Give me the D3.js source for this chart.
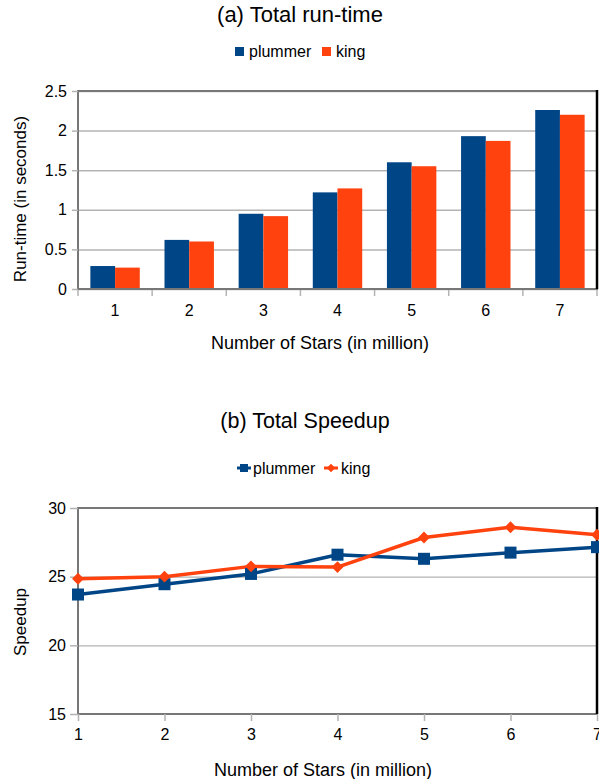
<!DOCTYPE html>
<html><head><meta charset="utf-8">
<script src="https://cdn.jsdelivr.net/npm/d3@7/dist/d3.min.js"></script>
<style>
body{margin:0;background:#fff;}
svg{display:block;font-family:"Liberation Sans",Arial,sans-serif;}
</style></head>
<body>
<svg id="c" width="599" height="779"></svg>
<script>
const categories = [1,2,3,4,5,6,7];
const seriesNames = ["plummer","king"];
const runtimePlummer = [0.29,0.62,0.95,1.22,1.60,1.93,2.26];
const runtimeKing    = [0.27,0.60,0.92,1.27,1.55,1.87,2.20];
const speedupPlummer = [23.7,24.45,25.2,26.6,26.3,26.75,27.15];
const speedupKing    = [24.85,25.0,25.75,25.7,27.85,28.6,28.05];
const runtimeTicks = [0,0.5,1,1.5,2,2.5];
const speedupTicks = [15,20,25,30];
const colors = ["#004586","#ff420e"];

const svg = d3.select("#c");
const L = 78, R = 597;
const FF = "'Liberation Sans', Arial, sans-serif";

function frame(g, x0, x1, y0, y1){
  g.append("rect").attr("x",x0).attr("y",y0).attr("width",x1-x0).attr("height",y1-y0)
    .attr("fill","none").attr("stroke","#777").attr("stroke-width",2);
  g.append("line").attr("x1",x1).attr("x2",x1).attr("y1",y0-1).attr("y2",y1)
    .attr("stroke","#000").attr("stroke-width",2.5);
}

// ---------- Chart (a) ----------
{
  const top = 91, bot = 289;
  const g = svg.append("g");
  const x = d3.scaleBand().domain(categories).range([L,R]).paddingInner(0).paddingOuter(0);
  const xi = d3.scaleBand().domain(seriesNames).range([x.bandwidth()/6, x.bandwidth()*5/6]);
  const y = d3.scaleLinear().domain([0,2.5]).range([bot,top]);

  g.append("text").attr("x",300).attr("y",22).attr("text-anchor","middle")
    .attr("font-size",22).attr("fill","#000").text("(a) Total run-time");

  g.append("g").attr("transform",`translate(${L},0)`)
    .call(d3.axisLeft(y).tickValues(runtimeTicks).tickSize(-(R-L)).tickFormat(""))
    .call(s=>s.select(".domain").remove())
    .call(s=>s.selectAll("line").attr("stroke","#b3b3b3").attr("stroke-width",1.5));

  const data = [runtimePlummer, runtimeKing];
  seriesNames.forEach((sn,si)=>{
    g.append("g").selectAll("rect").data(categories).join("rect")
      .attr("x",c=>x(c)+xi(sn)).attr("width",xi.bandwidth())
      .attr("y",(c,i)=>y(data[si][i])).attr("height",(c,i)=>bot-y(data[si][i]))
      .attr("fill",colors[si]);
  });

  frame(g, L, R, top, bot);

  const ya = g.append("g").attr("transform",`translate(${L},0)`)
    .call(d3.axisLeft(y).tickValues(runtimeTicks).tickSize(6).tickPadding(5).tickFormat(d3.format("")));
  ya.select(".domain").remove();
  ya.selectAll("line").attr("stroke","#b3b3b3").attr("stroke-width",1.5);
  ya.selectAll("text").attr("font-size",16).attr("fill","#000").attr("font-family",FF);

  const xb = d3.scaleLinear().domain([0,7]).range([L,R]);
  g.append("g").selectAll("line").data(d3.range(8)).join("line")
    .attr("x1",d=>xb(d)).attr("x2",d=>xb(d)).attr("y1",bot+1).attr("y2",bot+7)
    .attr("stroke","#b3b3b3").attr("stroke-width",1.5);
  g.append("g").selectAll("text").data(categories).join("text")
    .attr("x",c=>x(c)+x.bandwidth()/2).attr("y",316).attr("text-anchor","middle")
    .attr("font-size",16).attr("fill","#000").text(c=>c);

  g.append("text").attr("x",320).attr("y",349).attr("text-anchor","middle")
    .attr("font-size",18).attr("fill","#000").text("Number of Stars (in million)");
  g.append("text").attr("transform","translate(26,199) rotate(-90)").attr("text-anchor","middle")
    .attr("font-size",17).attr("fill","#000").text("Run-time (in seconds)");

  const lg = g.append("g");
  const leg = [{n:"plummer",sx:235,tx:249},{n:"king",sx:322,tx:336}];
  leg.forEach((d,i)=>{
    lg.append("rect").attr("x",d.sx).attr("y",47).attr("width",9).attr("height",9).attr("fill",colors[i]);
    lg.append("text").attr("x",d.tx).attr("y",57).attr("font-size",16).attr("fill","#000").text(d.n);
  });
}

// ---------- Chart (b) ----------
{
  const top = 508, bot = 714;
  const g = svg.append("g");
  const x = d3.scaleLinear().domain([1,7]).range([L,R]);
  const y = d3.scaleLinear().domain([15,30]).range([bot,top]);

  g.append("text").attr("x",305).attr("y",428).attr("text-anchor","middle")
    .attr("font-size",21.5).attr("fill","#000").text("(b) Total Speedup");

  g.append("g").attr("transform",`translate(${L},0)`)
    .call(d3.axisLeft(y).tickValues(speedupTicks).tickSize(-(R-L)).tickFormat(""))
    .call(s=>s.select(".domain").remove())
    .call(s=>s.selectAll("line").attr("stroke","#b3b3b3").attr("stroke-width",1.2));

  frame(g, L, R, top, bot);

  const ya = g.append("g").attr("transform",`translate(${L},0)`)
    .call(d3.axisLeft(y).tickValues(speedupTicks).tickSize(8).tickPadding(4).tickFormat(d3.format("")));
  ya.select(".domain").remove();
  ya.selectAll("line").attr("stroke","#b3b3b3").attr("stroke-width",1.5);
  ya.selectAll("text").attr("font-size",16).attr("fill","#000").attr("font-family",FF);

  const xa = g.append("g").attr("transform",`translate(0,${bot})`)
    .call(d3.axisBottom(x).tickValues(categories).tickSize(7).tickPadding(8).tickFormat(d3.format("")));
  xa.select(".domain").remove();
  xa.selectAll("line").attr("stroke","#b3b3b3").attr("stroke-width",1.5);
  xa.selectAll("text").attr("font-size",16).attr("fill","#000").attr("font-family",FF);

  const line = d3.line().x((d,i)=>x(categories[i])).y(d=>y(d));
  const data = [speedupPlummer, speedupKing];
  data.forEach((arr,si)=>{
    g.append("path").datum(arr).attr("d",line).attr("fill","none")
      .attr("stroke",colors[si]).attr("stroke-width",3.5).attr("stroke-linejoin","round");
  });
  g.append("g").selectAll("rect").data(speedupPlummer).join("rect")
    .attr("x",(d,i)=>x(categories[i])-6).attr("y",d=>y(d)-6)
    .attr("width",12).attr("height",12).attr("fill",colors[0]);
  g.append("g").selectAll("path").data(speedupKing).join("path")
    .attr("transform",(d,i)=>`translate(${x(categories[i])},${y(d)}) rotate(45)`)
    .attr("d",d3.symbol().type(d3.symbolSquare).size(70)).attr("fill",colors[1]);

  g.append("text").attr("x",323).attr("y",776).attr("text-anchor","middle")
    .attr("font-size",18).attr("fill","#000").text("Number of Stars (in million)");
  g.append("text").attr("transform","translate(26,622) rotate(-90)").attr("text-anchor","middle")
    .attr("font-size",17).attr("fill","#000").text("Speedup");

  const lg = g.append("g");
  const leg = [{n:"plummer",lx:237,tx:253},{n:"king",lx:324,tx:341}];
  leg.forEach((d,i)=>{
    lg.append("line").attr("x1",d.lx).attr("x2",d.lx+14).attr("y1",468).attr("y2",468)
      .attr("stroke",colors[i]).attr("stroke-width",3);
    if(i===0){
      lg.append("rect").attr("x",d.lx+3).attr("y",464).attr("width",8).attr("height",8).attr("fill",colors[i]);
    } else {
      lg.append("path").attr("transform",`translate(${d.lx+7},468) rotate(45)`)
        .attr("d",d3.symbol().type(d3.symbolSquare).size(36)).attr("fill",colors[i]);
    }
    lg.append("text").attr("x",d.tx).attr("y",474).attr("font-size",16).attr("fill","#000").text(d.n);
  });
}
</script>
</body></html>
